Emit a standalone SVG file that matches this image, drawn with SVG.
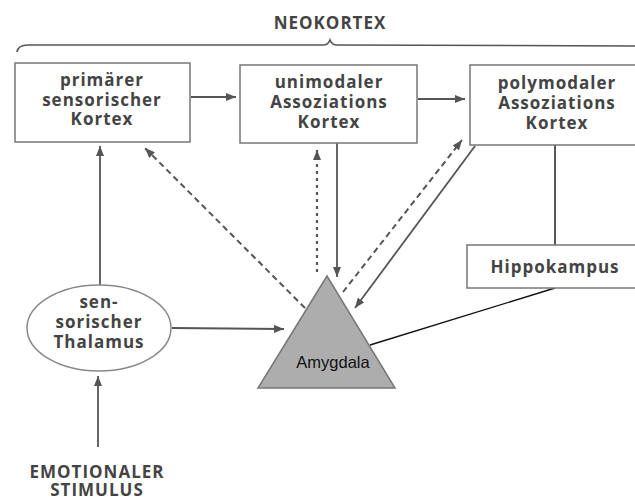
<svg xmlns="http://www.w3.org/2000/svg" width="635" height="497" viewBox="0 0 635 497">
<style>
.t{font-family:"Open Sans","Noto Sans","Liberation Sans",sans-serif;font-weight:bold;font-size:17px;letter-spacing:1px;fill:#444;text-anchor:middle}
.box{fill:#fff;stroke:#777;stroke-width:1.5}
.c{stroke:#555;stroke-width:1.8;fill:none}
.dash{stroke:#555;stroke-width:2;fill:none;stroke-dasharray:6 4}
.dot{stroke:#555;stroke-width:2.2;fill:none;stroke-dasharray:3 4}
.blk{stroke:#111;stroke-width:1.4;fill:none}
</style>
<defs>
<marker id="ah" markerUnits="userSpaceOnUse" markerWidth="10" markerHeight="8" refX="10" refY="4" orient="auto">
<path d="M0,0 L10,4 L0,8 z" fill="#555"/>
</marker>
</defs>
<rect width="635" height="497" fill="#fff"/>
<g id="neokortex">
<text class="t" x="330" y="29">NEOKORTEX</text>
<path d="M17,52 Q18,45 28,45 L323,45 Q328,45 330,40 Q332,45 337,45 L640,46" fill="none" stroke="#555" stroke-width="1.6"/>
</g>
<g id="connectors">
<line class="c" x1="191" y1="97" x2="236" y2="97" marker-end="url(#ah)"/>
<line class="c" x1="418" y1="99" x2="465" y2="99" marker-end="url(#ah)"/>
<line class="c" x1="100" y1="285" x2="100" y2="146" marker-end="url(#ah)"/>
<line class="c" x1="98" y1="447" x2="98" y2="376" marker-end="url(#ah)"/>
<line class="c" x1="172" y1="328" x2="284" y2="329" marker-end="url(#ah)"/>
<line class="c" x1="337" y1="143" x2="337" y2="277" marker-end="url(#ah)"/>
<line class="dot" x1="317" y1="272" x2="317" y2="150" marker-end="url(#ah)"/>
<line class="dash" x1="305" y1="308" x2="145" y2="148" marker-end="url(#ah)"/>
<line class="dash" x1="343" y1="292" x2="462" y2="140" marker-end="url(#ah)"/>
<line class="c" x1="475" y1="146" x2="355" y2="308" marker-end="url(#ah)"/>
<line class="blk" x1="555" y1="145" x2="555" y2="245"/>
<line class="blk" x1="555" y1="288" x2="370" y2="345"/>
</g>
<g id="primaerer-kortex">
<rect class="box" x="15" y="63" width="175" height="79"/>
<text class="t" x="102" y="86">primärer</text>
<text class="t" x="102" y="106">sensorischer</text>
<text class="t" x="102" y="125">Kortex</text>
</g>
<g id="unimodaler-kortex">
<rect class="box" x="240" y="65" width="177" height="78"/>
<text class="t" x="329" y="88">unimodaler</text>
<text class="t" x="329" y="108">Assoziations</text>
<text class="t" x="329" y="128">Kortex</text>
</g>
<g id="polymodaler-kortex">
<rect class="box" x="470" y="65" width="180" height="80"/>
<text class="t" x="557" y="89">polymodaler</text>
<text class="t" x="557" y="109">Assoziations</text>
<text class="t" x="557" y="129">Kortex</text>
</g>
<g id="hippokampus">
<rect class="box" x="467" y="245" width="180" height="43"/>
<text class="t" x="555" y="273">Hippokampus</text>
</g>
<g id="thalamus">
<ellipse cx="99" cy="328" rx="72" ry="43" fill="#fff" stroke="#888" stroke-width="1.5"/>
<text class="t" x="99" y="308">sen-</text>
<text class="t" x="99" y="328">sorischer</text>
<text class="t" x="99" y="348">Thalamus</text>
</g>
<g id="amygdala">
<polygon points="327,276 258,388 395,388" fill="#adadad" stroke="#777" stroke-width="1.5"/>
<text x="333" y="368" font-family="'Liberation Sans',Arial,sans-serif" font-size="16.5" fill="#111" text-anchor="middle">Amygdala</text>
</g>
<g id="stimulus">
<text class="t" x="97" y="478">EMOTIONALER</text>
<text class="t" x="97" y="496">STIMULUS</text>
</g>
</svg>
